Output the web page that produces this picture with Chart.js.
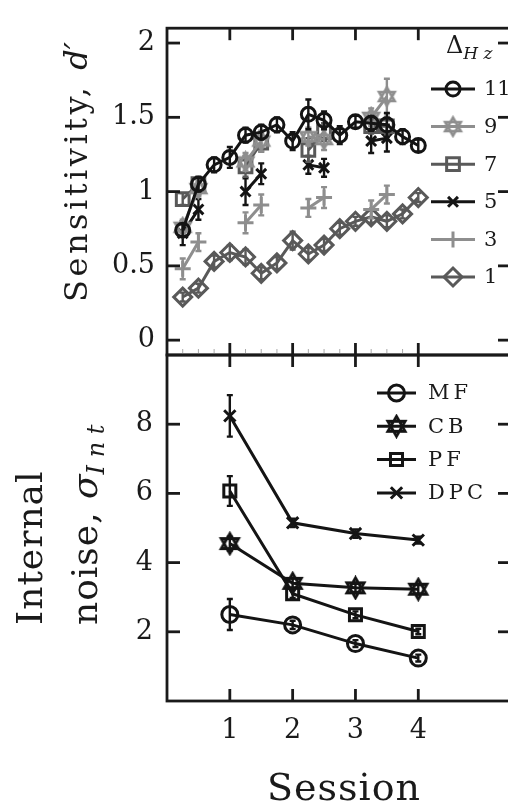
<!DOCTYPE html>
<html>
<head>
<meta charset="utf-8">
<script src="https://cdn.jsdelivr.net/npm/chart.js@4.4.1/dist/chart.umd.min.js"></script>
<style>
  html, body { margin: 0; padding: 0; background: #fff; overflow: hidden; }
  #wrap { position: relative; width: 508px; height: 805px; overflow: hidden; }
  #wrap canvas { position: absolute; left: 0; top: 0; }
</style>
</head>
<body>
<div id="wrap">
  <canvas id="topChart" width="514" height="805"></canvas>
  <canvas id="botChart" width="514" height="805"></canvas>
</div>
<script>
// top panel: sensitivity d' per quarter session
const TOP_X = [0.25, 0.5, 0.75, 1, 1.25, 1.5, 1.75, 2, 2.25, 2.5, 2.75, 3, 3.25, 3.5, 3.75, 4];
const TOP_LABELS = ['11', '9', '7', '5', '3', '1'];
const D11 = [0.74, 1.05, 1.18, 1.23, 1.38, 1.40, 1.45, 1.34, 1.52, 1.48, 1.38, 1.47, 1.46, 1.45, 1.37, 1.31];
const D9  = [0.76, 1.02, null, null, 1.20, 1.34, null, null, 1.37, 1.35, null, null, 1.50, 1.64, null, null];
const D7  = [0.95, 1.05, null, null, 1.17, 1.33, null, null, 1.28, 1.40, null, null, 1.44, 1.44, null, null];
const D5  = [0.72, 0.88, null, null, 1.00, 1.12, null, null, 1.18, 1.16, null, null, 1.34, 1.36, null, null];
const D3  = [0.48, 0.66, null, null, 0.79, 0.91, null, null, 0.89, 0.96, null, null, 0.88, 0.98, null, null];
const D1  = [0.29, 0.35, 0.53, 0.59, 0.56, 0.45, 0.52, 0.67, 0.58, 0.64, 0.75, 0.80, 0.83, 0.80, 0.85, 0.96];
const E11 = [0.04, 0.05, 0.05, 0.07, 0.05, 0.05, 0.05, 0.06, 0.10, 0.06, 0.06, 0.04, 0.05, 0.08, 0.05, 0.04];
const E9  = [0.05, 0.05, null, null, 0.06, 0.07, null, null, 0.06, 0.07, null, null, 0.06, 0.12, null, null];
const E7  = [0.04, 0.04, null, null, 0.07, 0.06, null, null, 0.08, 0.06, null, null, 0.05, 0.06, null, null];
const E5  = [0.08, 0.07, null, null, 0.09, 0.07, null, null, 0.06, 0.06, null, null, 0.08, 0.09, null, null];
const E3  = [0.07, 0.06, null, null, 0.07, 0.07, null, null, 0.06, 0.07, null, null, 0.06, 0.06, null, null];
const E1  = [0.03, 0.03, 0.04, 0.05, 0.05, 0.04, 0.04, 0.06, 0.04, 0.04, 0.04, 0.03, 0.04, 0.04, 0.03, 0.03];
const TOP_Y_TICKS = [0, 0.5, 1, 1.5, 2];

// bottom panel: internal noise per session
const SESSIONS = [1, 2, 3, 4];
const BOT_LABELS = ['MF', 'CB', 'PF', 'DPC'];
const MF  = [2.50, 2.20, 1.66, 1.24];
const CB  = [4.55, 3.40, 3.27, 3.23];
const PF  = [6.07, 3.10, 2.49, 2.01];
const DPC = [8.24, 5.15, 4.84, 4.65];
const E_MF  = [0.45, 0.12, 0.10, 0.10];
const E_CB  = [0.20, 0.15, 0.12, 0.12];
const E_PF  = [0.43, 0.12, 0.10, 0.08];
const E_DPC = [0.60, 0.12, 0.12, 0.10];
const BOT_Y_TICKS = [2, 4, 6, 8];

const SERIF = '"DejaVu Serif", serif';
const INK = '#1a1a1a';
const LW = 3;

function hexagram(color, r, lw) {
  const s = Math.ceil(2 * r + lw + 2);
  const c = document.createElement('canvas');
  c.width = c.height = s;
  const g = c.getContext('2d');
  g.strokeStyle = color;
  g.lineWidth = lw;
  const m = s / 2;
  [-Math.PI / 2, Math.PI / 2].forEach(off => {
    g.beginPath();
    for (let k = 0; k < 3; k++) {
      const a = off + k * 2 * Math.PI / 3;
      const px = m + r * Math.cos(a), py = m + r * Math.sin(a);
      if (k) g.lineTo(px, py); else g.moveTo(px, py);
    }
    g.closePath();
    g.stroke();
  });
  return c;
}

const pts = (xs, ys) => xs.map((x, i) => ({ x: x, y: ys[i] }));

function series(label, xs, ys, errs, color, style, radius, lw) {
  return {
    label: label,
    data: pts(xs, ys),
    errs: errs,
    showLine: true,
    spanGaps: false,
    borderColor: color,
    backgroundColor: 'rgba(0,0,0,0)',
    borderWidth: lw,
    pointStyle: style,
    pointRadius: radius,
    pointHoverRadius: radius,
    pointBorderColor: color,
    pointBackgroundColor: 'rgba(0,0,0,0)',
    pointBorderWidth: lw,
    tension: 0
  };
}

// error bars, drawn with each dataset so layering follows the datasets
const errorBars = {
  id: 'errorBars',
  afterDatasetDraw(chart, args) {
    const ds = chart.data.datasets[args.index];
    if (!ds.errs) return;
    const ctx = chart.ctx, y = chart.scales.y;
    ctx.save();
    ctx.strokeStyle = ds.borderColor;
    ctx.lineWidth = 2.4;
    args.meta.data.forEach((p, i) => {
      const v = ds.data[i].y, e = ds.errs[i];
      if (v == null || e == null) return;
      const y1 = y.getPixelForValue(v + e), y2 = y.getPixelForValue(v - e);
      ctx.beginPath();
      ctx.moveTo(p.x, y1); ctx.lineTo(p.x, y2);
      ctx.moveTo(p.x - 3, y1); ctx.lineTo(p.x + 3, y1);
      ctx.moveTo(p.x - 3, y2); ctx.lineTo(p.x + 3, y2);
      ctx.stroke();
    });
    ctx.restore();
  }
};

// box around the plot with inward ticks
const frame = {
  id: 'frame',
  afterDraw(chart, args, o) {
    const { ctx, chartArea: a, scales } = chart;
    const line = (x1, y1, x2, y2) => { ctx.beginPath(); ctx.moveTo(x1, y1); ctx.lineTo(x2, y2); ctx.stroke(); };
    ctx.save();
    ctx.strokeStyle = INK;
    ctx.lineWidth = 2.8;
    scales.y.ticks.forEach(t => {
      const y = scales.y.getPixelForValue(t.value);
      line(a.left, y, a.left + 13, y);
      line(a.right, y, a.right - 12, y);
    });
    o.major.forEach(v => {
      const x = scales.x.getPixelForValue(v);
      line(x, a.top, x, a.top + 12);
      line(x, a.bottom, x, a.bottom - 12);
    });
    ctx.strokeRect(a.left, a.top, a.right - a.left, a.bottom - a.top);
    if (o.minor) {
      ctx.strokeStyle = '#aaa';
      ctx.lineWidth = 1;
      o.minor.forEach(v => {
        const x = scales.x.getPixelForValue(v);
        line(x, a.bottom - 1, x, a.bottom - 6);
      });
    }
    ctx.restore();
  }
};

function drawParts(ctx, parts, x, y) {
  let cx = x;
  parts.forEach(p => {
    ctx.font = p.font;
    ctx.letterSpacing = (p.ls || 0) + 'px';
    ctx.fillText(p.text, cx, y + (p.dy || 0));
    cx += ctx.measureText(p.text).width;
  });
  ctx.letterSpacing = '0px';
  return cx;
}

function partsWidth(ctx, parts) {
  let w = 0;
  parts.forEach(p => {
    ctx.font = p.font;
    ctx.letterSpacing = (p.ls || 0) + 'px';
    w += ctx.measureText(p.text).width;
  });
  ctx.letterSpacing = '0px';
  return w;
}

// axis titles, with sub/italic parts
const titles = {
  id: 'titles',
  afterDraw(chart, args, o) {
    const ctx = chart.ctx;
    ctx.save();
    ctx.fillStyle = INK;
    ctx.textBaseline = 'alphabetic';
    o.items.forEach(t => {
      ctx.save();
      ctx.translate(t.x, t.y);
      if (t.rot) ctx.rotate(-Math.PI / 2);
      const w = partsWidth(ctx, t.parts);
      const start = t.align === 'center' ? -w / 2 : 0;
      drawParts(ctx, t.parts, start, 0);
      ctx.restore();
    });
    ctx.restore();
  }
};

// legend placed inside the plot
const boxLegend = {
  id: 'boxLegend',
  afterDraw(chart, args, o) {
    const ctx = chart.ctx;
    ctx.save();
    if (o.header) {
      ctx.fillStyle = INK;
      ctx.textBaseline = 'alphabetic';
      drawParts(ctx, o.header.parts, o.header.x, o.header.y);
    }
    chart.data.datasets.forEach((ds, i) => {
      const y = o.y + i * o.step;
      ctx.strokeStyle = ds.borderColor;
      ctx.fillStyle = 'rgba(0,0,0,0)';
      ctx.lineWidth = ds.borderWidth;
      ctx.beginPath();
      ctx.moveTo(o.x0, y); ctx.lineTo(o.x1, y);
      ctx.stroke();
      Chart.helpers.drawPoint(ctx, {
        pointStyle: ds.pointStyle, radius: ds.pointRadius, borderWidth: ds.pointBorderWidth, rotation: 0
      }, (o.x0 + o.x1) / 2, y);
      ctx.fillStyle = INK;
      ctx.font = o.font;
      ctx.letterSpacing = (o.ls || 0) + 'px';
      ctx.textBaseline = 'middle';
      ctx.fillText(ds.label, o.xt, y + 1);
      ctx.letterSpacing = '0px';
    });
    ctx.restore();
  }
};

const fixedTicks = vals => scale => { scale.ticks = vals.map(v => ({ value: v })); };
const plainLabel = v => String(v);

const C_BLACK = '#141414', C_LIGHT = '#8e8e8e', C_DARK = '#595959';

new Chart(document.getElementById('topChart'), {
  type: 'scatter',
  data: {
    datasets: [
      series(TOP_LABELS[0], TOP_X, D11, E11, C_BLACK, 'circle', 7, LW),
      series(TOP_LABELS[1], TOP_X, D9, E9, C_LIGHT, hexagram(C_LIGHT, 9, 2.6), 9, LW),
      series(TOP_LABELS[2], TOP_X, D7, E7, C_DARK, 'rect', 9, LW),
      series(TOP_LABELS[3], TOP_X, D5, E5, C_BLACK, 'crossRot', 7, LW),
      series(TOP_LABELS[4], TOP_X, D3, E3, C_LIGHT, 'cross', 8, LW),
      series(TOP_LABELS[5], TOP_X, D1, E1, C_DARK, 'rectRot', 9, LW)
    ]
  },
  options: {
    responsive: false,
    devicePixelRatio: 1,
    animation: false,
    events: [],
    layout: { autoPadding: false, padding: { top: 10, right: 4, bottom: 450, left: 0 } },
    scales: {
      x: { type: 'linear', min: 0, max: 5.46, display: false },
      y: {
        min: -0.1, max: 2.1,
        afterBuildTicks: fixedTicks(TOP_Y_TICKS),
        afterFit: s => { s.width = 167; },
        grid: { display: false, drawTicks: false },
        border: { display: false },
        ticks: { font: { family: SERIF, size: 27 }, color: INK, padding: 12, callback: plainLabel }
      }
    },
    plugins: {
      legend: { display: false },
      tooltip: { enabled: false },
      frame: { major: SESSIONS, minor: TOP_X.filter(v => v < 4 && v % 1 !== 0) },
      titles: {
        items: [{
          x: 87, y: 172, rot: true, align: 'center',
          parts: [
            { text: 'Sensitivity, ', font: '32px ' + SERIF, ls: 3.5 },
            { text: 'd\u2032', font: 'italic 32px ' + SERIF }
          ]
        }]
      },
      boxLegend: {
        x0: 431, x1: 475, xt: 484, y: 89, step: 37.6, font: '21px ' + SERIF,
        header: {
          x: 446, y: 53,
          parts: [
            { text: '\u0394', font: '24px ' + SERIF },
            { text: 'H z', font: 'italic 17px ' + SERIF, dy: 6 }
          ]
        }
      }
    }
  },
  plugins: [errorBars, frame, titles, boxLegend]
});

new Chart(document.getElementById('botChart'), {
  type: 'scatter',
  data: {
    datasets: [
      series(BOT_LABELS[0], SESSIONS, MF, E_MF, C_BLACK, 'circle', 8, LW),
      series(BOT_LABELS[1], SESSIONS, CB, E_CB, C_BLACK, hexagram(C_BLACK, 10, 2.8), 10, LW),
      series(BOT_LABELS[2], SESSIONS, PF, E_PF, C_BLACK, 'rect', 8.5, LW),
      series(BOT_LABELS[3], SESSIONS, DPC, E_DPC, C_BLACK, 'crossRot', 8, LW)
    ]
  },
  options: {
    responsive: false,
    devicePixelRatio: 1,
    animation: false,
    events: [],
    layout: { autoPadding: false, padding: { top: 355, right: 4, bottom: 0, left: 0 } },
    scales: {
      x: {
        type: 'linear', min: 0, max: 5.46,
        afterBuildTicks: fixedTicks(SESSIONS),
        afterFit: s => { s.height = 104; },
        grid: { display: false, drawTicks: false },
        border: { display: false },
        ticks: { font: { family: SERIF, size: 27 }, color: INK, padding: 14, callback: plainLabel }
      },
      y: {
        min: 0, max: 10,
        afterBuildTicks: fixedTicks(BOT_Y_TICKS),
        afterFit: s => { s.width = 167; },
        grid: { display: false, drawTicks: false },
        border: { display: false },
        ticks: { font: { family: SERIF, size: 27 }, color: INK, padding: 14, callback: plainLabel }
      }
    },
    plugins: {
      legend: { display: false },
      tooltip: { enabled: false },
      frame: { major: SESSIONS },
      titles: {
        items: [
          { x: 42, y: 625, rot: true, parts: [{ text: 'Internal', font: '36px ' + SERIF, ls: 1 }] },
          {
            x: 97, y: 625, rot: true,
            parts: [
              { text: 'noise, ', font: '36px ' + SERIF, ls: 1 },
              { text: '\u03C3', font: 'italic 36px ' + SERIF },
              { text: 'I n t', font: 'italic 24px ' + SERIF, dy: 7 }
            ]
          },
          { x: 344, y: 800, align: 'center', parts: [{ text: 'Session', font: '38px ' + SERIF, ls: 1 }] }
        ]
      },
      boxLegend: { x0: 377, x1: 416, xt: 428, y: 393, step: 33.3, font: '21px ' + SERIF, ls: 4 }
    }
  },
  plugins: [errorBars, frame, titles, boxLegend]
});
</script>
</body>
</html>
